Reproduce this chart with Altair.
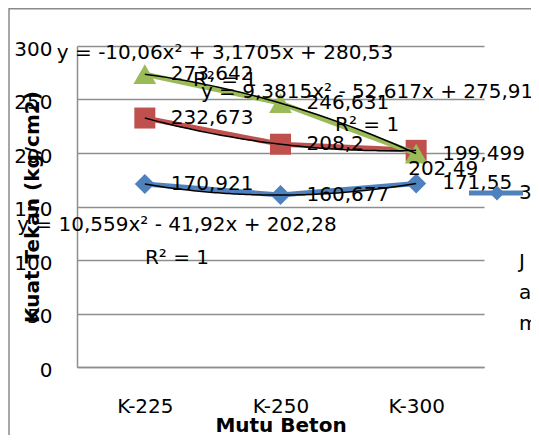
import json
import altair as alt
import pandas as pd

# ---------------- data ----------------
categories = ["K-225", "K-250", "K-300"]
series_names = ["Seri 1", "Seri 2", "Seri 3"]
blue_values = [170.921, 160.677, 171.55]
red_values = [232.673, 208.2, 202.49]
green_values = [273.642, 246.631, 199.499]
y_ticks = [0, 50, 100, 150, 200, 250, 300]
equations = [
    "y = 10,559x² - 41,92x + 202,28",
    "y = 9,3815x² - 52,617x + 275,91",
    "y = -10,06x² + 3,1705x + 280,53",
]
r2_texts = ["R² = 1", "R² = 1", "R² = 1"]
legend_glyphs = ["3", "J", "a", "m"]

# ---------------- styles ----------------
FONT = "DejaVu Sans"
GRID = "#8e8e8e"
styles = {
    "Seri 1": dict(color="#4F81BD", shape="diamond", size=400),
    "Seri 2": dict(color="#C0504D", shape="square", size=441),
    "Seri 3": dict(color="#9BBB59", shape="triangle-up", size=520),
}

rows = []
for name, vals in zip(series_names, [blue_values, red_values, green_values]):
    for i, (c, v) in enumerate(zip(categories, vals)):
        rows.append({"series": name, "cat": c, "idx": i + 1, "value": v,
                     "label": str(v).replace(".", ",")})
df = pd.DataFrame(rows)

# annotation placement (in scale coordinates)
eq_pos = [(1.237, 132.7), (2.638, 257.0), (1.591, 293.5)]
r2_pos = [(1.237, 101.9), (2.638, 226.2), (1.591, 268.2)]
ann = pd.DataFrame(
    [{"idx": p[0], "value": p[1], "text": t} for p, t in zip(eq_pos, equations)]
    + [{"idx": p[0], "value": p[1], "text": t} for p, t in zip(r2_pos, r2_texts)]
)

label_expr = "%s[datum.value - 1]" % json.dumps(categories)

X = alt.X(
    "idx:Q",
    scale=alt.Scale(domain=[0.5, 3.5], nice=False, zero=False),
    axis=alt.Axis(
        values=[1, 2, 3], labelExpr=label_expr, grid=False, ticks=False,
        domainColor=GRID, domainWidth=1.5,
        labelFont=FONT, labelFontSize=20, labelColor="black", labelPadding=29,
        title="Mutu Beton", titleFont=FONT, titleFontSize=20, titleFontWeight="bold",
        titleColor="black", titleBaseline="alphabetic", titleY=64,
    ),
)
Y = alt.Y(
    "value:Q",
    scale=alt.Scale(domain=[0, 300], nice=False, zero=True),
    axis=alt.Axis(
        values=y_ticks, grid=True, gridColor=GRID, gridWidth=1.5, ticks=False,
        domainColor=GRID, domainWidth=1.5,
        labelFont=FONT, labelFontSize=20, labelColor="black", labelPadding=25,
        labelOffset=3,
        title="Kuat Tekan (kg/cm2)", titleFont=FONT, titleFontSize=20,
        titleFontWeight="bold", titleColor="black", titleAngle=270,
        titleAlign="center", titleBaseline="alphabetic", titleX=-39, titleY=160.5,
    ),
)

base = alt.Chart(df)
layers = []
for name in series_names:
    st = styles[name]
    sub = base.transform_filter(alt.datum.series == name)
    layers.append(sub.mark_line(color=st["color"], strokeWidth=5).encode(x=X, y=Y))
    layers.append(
        sub.mark_point(filled=True, opacity=1, shape=st["shape"], size=st["size"],
                       color=st["color"]).encode(x=X, y=Y)
    )

# polynomial (order 2) trendlines
layers.append(
    base.transform_regression("idx", "value", groupby=["series"], method="poly",
                              order=2, extent=[1, 3])
    .mark_line(color="black", strokeWidth=1.5)
    .encode(x=X, y=Y, detail="series:N")
)

# data labels
text_kw = dict(font=FONT, fontSize=20, color="black", baseline="middle")
layers.append(
    base.transform_filter("!(datum.series == 'Seri 2' && datum.cat == 'K-300')")
    .mark_text(align="left", dx=26, **text_kw)
    .encode(x=X, y=Y, text="label:N")
)
layers.append(
    base.transform_filter("datum.series == 'Seri 2' && datum.cat == 'K-300'")
    .mark_text(align="left", dx=-8, dy=19, **text_kw)
    .encode(x=X, y=Y, text="label:N")
)

# trendline equations
layers.append(
    alt.Chart(ann).mark_text(align="center", **text_kw).encode(x=X, y=Y, text="text:N")
)

# legend fragment (clipped at the right edge)
one = pd.DataFrame({"k": [0]})
layers.append(
    alt.Chart(one).mark_rule(color="#4F81BD", strokeWidth=5)
    .encode(x=alt.value(392), x2=alt.value(446), y=alt.value(147))
)
layers.append(
    alt.Chart(one).mark_point(filled=True, opacity=1, shape="diamond", size=225, color="#4F81BD")
    .encode(x=alt.value(420), y=alt.value(147))
)
leg = pd.DataFrame({"g": legend_glyphs, "py": [147, 216, 247, 278]})
layers.append(
    alt.Chart(leg).mark_text(align="left", **text_kw)
    .encode(x=alt.value(442), y=alt.Y("py:Q", scale=None, axis=None), text="g:N")
)

# chart-area border (top and left)
layers.append(
    alt.Chart(one).mark_rule(color="#8a8a8a", strokeWidth=1.5)
    .encode(x=alt.value(-68), x2=alt.value(470), y=alt.value(-37.2))
)
layers.append(
    alt.Chart(one).mark_rule(color="#8a8a8a", strokeWidth=1.5)
    .encode(x=alt.value(-68), y=alt.value(-38), y2=alt.value(400))
)

chart = (
    alt.layer(*layers)
    .properties(
        width=407, height=321,
        padding={"left": 69, "top": 38, "right": 47, "bottom": 68},
        autosize=alt.AutoSizeParams(type="none"),
        background="white",
    )
    .configure_view(stroke=None)
)

chart.save("out.html", embed_options={"renderer": "svg", "actions": False})
